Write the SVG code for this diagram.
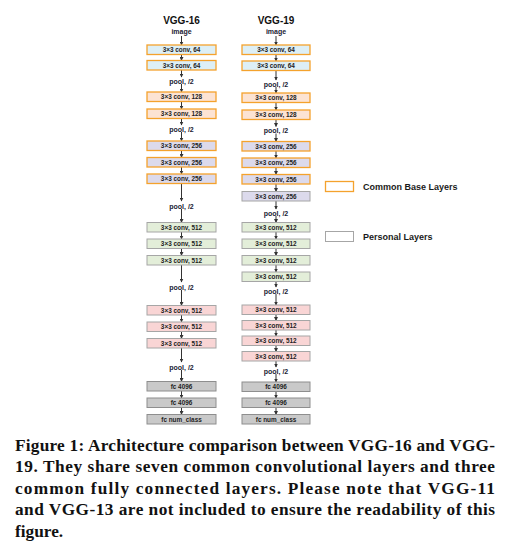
<svg xmlns="http://www.w3.org/2000/svg" width="508" height="546" viewBox="0 0 508 546">
<style>
.t{font-family:"Liberation Sans",Arial,sans-serif;font-weight:bold;fill:#111;text-anchor:middle}
.ttl{font-size:10px}
.lb{font-size:7px;fill:#1a1a33}
.bx{font-size:6.4px;fill:#222}
.ob{stroke:#F4A22D;stroke-width:1.3}
.gb{stroke:#A6A6A6;stroke-width:1}
.fb{stroke:#8E8E8E;stroke-width:1}
.c64{fill:#DDEFF6}
.c128{fill:#FCE3D3}
.c256{fill:#DCDAEC}
.c512g{fill:#E3EED9}
.c512p{fill:#F9D5D5}
.fc{fill:#C9C9C9}
.ar{stroke:#333;stroke-width:1;fill:none;marker-end:url(#ah)}
.lg{font-family:"Liberation Sans",Arial,sans-serif;font-weight:bold;font-size:9px;fill:#1a1a1a}
.cap{font-family:"Liberation Serif","Times New Roman",serif;font-weight:bold;font-size:17.3px;fill:#111}
</style>
<defs>
<marker id="ah" markerWidth="4" markerHeight="4" refX="3.5" refY="2" orient="auto" markerUnits="userSpaceOnUse">
<path d="M0,0 L4,2 L0,4 z" fill="#333"/>
</marker>
</defs>
<rect width="508" height="546" fill="#fff"/>

<g id="connectors">
<line class="ar" x1="181.5" y1="36" x2="181.5" y2="45"/>
<line class="ar" x1="181.5" y1="54.5" x2="181.5" y2="60.5"/>
<line class="ar" x1="181.5" y1="70" x2="181.5" y2="77"/>
<line class="ar" x1="181.5" y1="84" x2="181.5" y2="92"/>
<line class="ar" x1="181.5" y1="101.5" x2="181.5" y2="109"/>
<line class="ar" x1="181.5" y1="118.5" x2="181.5" y2="125"/>
<line class="ar" x1="181.5" y1="132" x2="181.5" y2="141"/>
<line class="ar" x1="181.5" y1="150.5" x2="181.5" y2="157.5"/>
<line class="ar" x1="181.5" y1="167" x2="181.5" y2="174"/>
<line class="ar" x1="181.5" y1="183.5" x2="181.5" y2="201"/>
<line class="ar" x1="181.5" y1="209" x2="181.5" y2="222.5"/>
<line class="ar" x1="181.5" y1="232" x2="181.5" y2="239"/>
<line class="ar" x1="181.5" y1="248.5" x2="181.5" y2="255.5"/>
<line class="ar" x1="181.5" y1="265" x2="181.5" y2="282"/>
<line class="ar" x1="181.5" y1="290" x2="181.5" y2="305.5"/>
<line class="ar" x1="181.5" y1="315" x2="181.5" y2="322"/>
<line class="ar" x1="181.5" y1="331.5" x2="181.5" y2="338.5"/>
<line class="ar" x1="181.5" y1="348" x2="181.5" y2="362"/>
<line class="ar" x1="181.5" y1="370" x2="181.5" y2="381.5"/>
<line class="ar" x1="181.5" y1="391" x2="181.5" y2="398"/>
<line class="ar" x1="181.5" y1="407.5" x2="181.5" y2="414.5"/>
<line class="ar" x1="276" y1="36" x2="276" y2="45"/>
<line class="ar" x1="276" y1="54.5" x2="276" y2="61"/>
<line class="ar" x1="276" y1="70.5" x2="276" y2="80"/>
<line class="ar" x1="276" y1="87" x2="276" y2="93"/>
<line class="ar" x1="276" y1="102.5" x2="276" y2="110"/>
<line class="ar" x1="276" y1="119.5" x2="276" y2="126.5"/>
<line class="ar" x1="276" y1="133.5" x2="276" y2="141.5"/>
<line class="ar" x1="276" y1="151" x2="276" y2="158"/>
<line class="ar" x1="276" y1="167.5" x2="276" y2="174.5"/>
<line class="ar" x1="276" y1="184" x2="276" y2="191.5"/>
<line class="ar" x1="276" y1="201" x2="276" y2="209"/>
<line class="ar" x1="276" y1="216" x2="276" y2="222.5"/>
<line class="ar" x1="276" y1="232" x2="276" y2="239"/>
<line class="ar" x1="276" y1="248.5" x2="276" y2="255.5"/>
<line class="ar" x1="276" y1="265" x2="276" y2="272"/>
<line class="ar" x1="276" y1="281.5" x2="276" y2="287"/>
<line class="ar" x1="276" y1="294" x2="276" y2="305"/>
<line class="ar" x1="276" y1="314.5" x2="276" y2="320.5"/>
<line class="ar" x1="276" y1="330" x2="276" y2="336"/>
<line class="ar" x1="276" y1="345.5" x2="276" y2="351.5"/>
<line class="ar" x1="276" y1="361" x2="276" y2="367"/>
<line class="ar" x1="276" y1="374" x2="276" y2="382"/>
<line class="ar" x1="276" y1="391.5" x2="276" y2="398"/>
<line class="ar" x1="276" y1="407.5" x2="276" y2="414.5"/>
</g>

<g id="vgg16-labels">
<text class="t ttl" x="181.5" y="23.5">VGG-16</text>
<text class="t lb" x="181.5" y="33.5">image</text>
<text class="t lb" x="181.5" y="83.5">pool, /2</text>
<text class="t lb" x="181.5" y="131.5">pool, /2</text>
<text class="t lb" x="181.5" y="208.5">pool, /2</text>
<text class="t lb" x="181.5" y="289.5">pool, /2</text>
<text class="t lb" x="181.5" y="369.5">pool, /2</text>
</g>
<g id="vgg19-labels">
<text class="t ttl" x="276" y="23.5">VGG-19</text>
<text class="t lb" x="276" y="33.5">image</text>
<text class="t lb" x="276" y="86.5">pool, /2</text>
<text class="t lb" x="276" y="133">pool, /2</text>
<text class="t lb" x="276" y="215.5">pool, /2</text>
<text class="t lb" x="276" y="293.5">pool, /2</text>
<text class="t lb" x="276" y="373.5">pool, /2</text>
</g>

<g id="v16-c64-1"><rect class="c64 ob" x="147" y="45" width="69" height="9.5"/><text class="t bx" x="181.5" y="52">3×3 conv, 64</text></g>
<g id="v16-c64-2"><rect class="c64 ob" x="147" y="60.5" width="69" height="9.5"/><text class="t bx" x="181.5" y="67.5">3×3 conv, 64</text></g>
<g id="v16-c128-1"><rect class="c128 ob" x="147" y="92" width="69" height="9.5"/><text class="t bx" x="181.5" y="99">3×3 conv, 128</text></g>
<g id="v16-c128-2"><rect class="c128 ob" x="147" y="109" width="69" height="9.5"/><text class="t bx" x="181.5" y="116">3×3 conv, 128</text></g>
<g id="v16-c256-1"><rect class="c256 ob" x="147" y="141" width="69" height="9.5"/><text class="t bx" x="181.5" y="148">3×3 conv, 256</text></g>
<g id="v16-c256-2"><rect class="c256 ob" x="147" y="157.5" width="69" height="9.5"/><text class="t bx" x="181.5" y="164.5">3×3 conv, 256</text></g>
<g id="v16-c256-3"><rect class="c256 ob" x="147" y="174" width="69" height="9.5"/><text class="t bx" x="181.5" y="181">3×3 conv, 256</text></g>
<g id="v16-c512-1"><rect class="c512g gb" x="147" y="222.5" width="69" height="9.5"/><text class="t bx" x="181.5" y="229.5">3×3 conv, 512</text></g>
<g id="v16-c512-2"><rect class="c512g gb" x="147" y="239" width="69" height="9.5"/><text class="t bx" x="181.5" y="246">3×3 conv, 512</text></g>
<g id="v16-c512-3"><rect class="c512g gb" x="147" y="255.5" width="69" height="9.5"/><text class="t bx" x="181.5" y="262.5">3×3 conv, 512</text></g>
<g id="v16-c512-4"><rect class="c512p gb" x="147" y="305.5" width="69" height="9.5"/><text class="t bx" x="181.5" y="312.5">3×3 conv, 512</text></g>
<g id="v16-c512-5"><rect class="c512p gb" x="147" y="322" width="69" height="9.5"/><text class="t bx" x="181.5" y="329">3×3 conv, 512</text></g>
<g id="v16-c512-6"><rect class="c512p gb" x="147" y="338.5" width="69" height="9.5"/><text class="t bx" x="181.5" y="345.5">3×3 conv, 512</text></g>
<g id="v16-fc-1"><rect class="fc fb" x="147" y="381.5" width="69" height="9.5"/><text class="t bx" x="181.5" y="388.5">fc 4096</text></g>
<g id="v16-fc-2"><rect class="fc fb" x="147" y="398" width="69" height="9.5"/><text class="t bx" x="181.5" y="405">fc 4096</text></g>
<g id="v16-fc-3"><rect class="fc fb" x="147" y="414.5" width="69" height="9.5"/><text class="t bx" x="181.5" y="421.5">fc num_class</text></g>

<g id="v19-c64-1"><rect class="c64 ob" x="242" y="45" width="68" height="9.5"/><text class="t bx" x="276" y="52">3×3 conv, 64</text></g>
<g id="v19-c64-2"><rect class="c64 ob" x="242" y="61" width="68" height="9.5"/><text class="t bx" x="276" y="68">3×3 conv, 64</text></g>
<g id="v19-c128-1"><rect class="c128 ob" x="242" y="93" width="68" height="9.5"/><text class="t bx" x="276" y="100">3×3 conv, 128</text></g>
<g id="v19-c128-2"><rect class="c128 ob" x="242" y="110" width="68" height="9.5"/><text class="t bx" x="276" y="117">3×3 conv, 128</text></g>
<g id="v19-c256-1"><rect class="c256 ob" x="242" y="141.5" width="68" height="9.5"/><text class="t bx" x="276" y="148.5">3×3 conv, 256</text></g>
<g id="v19-c256-2"><rect class="c256 ob" x="242" y="158" width="68" height="9.5"/><text class="t bx" x="276" y="165">3×3 conv, 256</text></g>
<g id="v19-c256-3"><rect class="c256 ob" x="242" y="174.5" width="68" height="9.5"/><text class="t bx" x="276" y="181.5">3×3 conv, 256</text></g>
<g id="v19-c256-4"><rect class="c256 gb" x="242" y="191.5" width="68" height="9.5"/><text class="t bx" x="276" y="198.5">3×3 conv, 256</text></g>
<g id="v19-c512-1"><rect class="c512g gb" x="242" y="222.5" width="68" height="9.5"/><text class="t bx" x="276" y="229.5">3×3 conv, 512</text></g>
<g id="v19-c512-2"><rect class="c512g gb" x="242" y="239" width="68" height="9.5"/><text class="t bx" x="276" y="246">3×3 conv, 512</text></g>
<g id="v19-c512-3"><rect class="c512g gb" x="242" y="255.5" width="68" height="9.5"/><text class="t bx" x="276" y="262.5">3×3 conv, 512</text></g>
<g id="v19-c512-4"><rect class="c512g gb" x="242" y="272" width="68" height="9.5"/><text class="t bx" x="276" y="279">3×3 conv, 512</text></g>
<g id="v19-c512-5"><rect class="c512p gb" x="242" y="305" width="68" height="9.5"/><text class="t bx" x="276" y="312">3×3 conv, 512</text></g>
<g id="v19-c512-6"><rect class="c512p gb" x="242" y="320.5" width="68" height="9.5"/><text class="t bx" x="276" y="327.5">3×3 conv, 512</text></g>
<g id="v19-c512-7"><rect class="c512p gb" x="242" y="336" width="68" height="9.5"/><text class="t bx" x="276" y="343">3×3 conv, 512</text></g>
<g id="v19-c512-8"><rect class="c512p gb" x="242" y="351.5" width="68" height="9.5"/><text class="t bx" x="276" y="358.5">3×3 conv, 512</text></g>
<g id="v19-fc-1"><rect class="fc fb" x="242" y="382" width="68" height="9.5"/><text class="t bx" x="276" y="389">fc 4096</text></g>
<g id="v19-fc-2"><rect class="fc fb" x="242" y="398" width="68" height="9.5"/><text class="t bx" x="276" y="405">fc 4096</text></g>
<g id="v19-fc-3"><rect class="fc fb" x="242" y="414.5" width="68" height="9.5"/><text class="t bx" x="276" y="421.5">fc num_class</text></g>

<g id="legend-common"><rect x="325.5" y="181.5" width="28" height="10" fill="#fff" class="ob"/><text class="lg" x="363" y="189.5">Common Base Layers</text></g>
<g id="legend-personal"><rect x="325.5" y="231.5" width="28" height="10" fill="#fff" class="gb"/><text class="lg" x="363" y="239.5">Personal Layers</text></g>

<g id="caption">
<text class="cap" x="15" y="450.5" textLength="480" lengthAdjust="spacing">Figure 1: Architecture comparison between VGG-16 and VGG-</text>
<text class="cap" x="15" y="472" textLength="480" lengthAdjust="spacing">19. They share seven common convolutional layers and three</text>
<text class="cap" x="15" y="493.5" textLength="480" lengthAdjust="spacing">common fully connected layers. Please note that VGG-11</text>
<text class="cap" x="15" y="515" textLength="480" lengthAdjust="spacing">and VGG-13 are not included to ensure the readability of this</text>
<text class="cap" x="15" y="536.5">figure.</text>
</g>
</svg>
